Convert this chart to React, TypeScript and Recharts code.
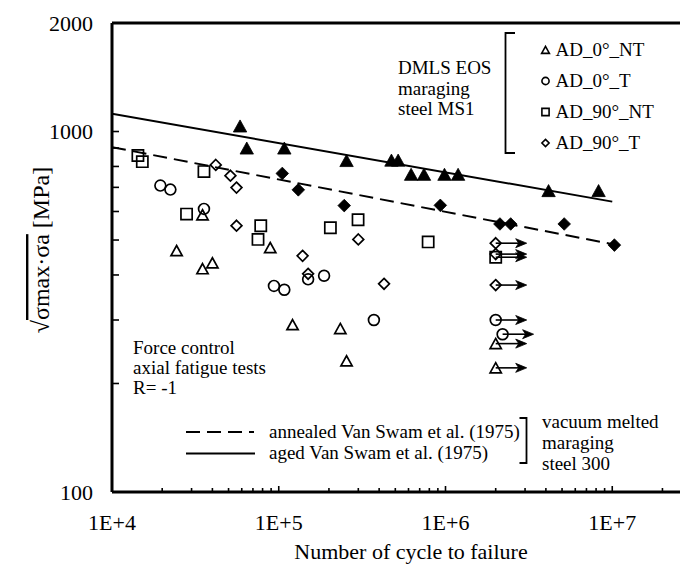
import React from 'react';
import { ScatterChart, Scatter, XAxis, YAxis, ReferenceLine } from 'recharts';

const FONT = "'Liberation Serif', 'DejaVu Serif', serif";
const fontStyle = { fontFamily: FONT };

// Fatigue data: n = cycles to failure, s = sqrt(smax*sa) [MPa]; runout = test stopped without failure
type Pt = { n: number; s: number; runout?: boolean };

const ad0NT: Pt[] = [
  { n: 24400, s: 467 }, { n: 34900, s: 587 }, { n: 34900, s: 416 }, { n: 40000, s: 432 },
  { n: 88900, s: 476 }, { n: 121000, s: 291 }, { n: 234000, s: 284 }, { n: 255000, s: 231 },
  { n: 2000000, s: 258, runout: true }, { n: 2000000, s: 221, runout: true },
];

const ad0T: Pt[] = [
  { n: 19500, s: 708 }, { n: 22400, s: 690 }, { n: 35600, s: 610 }, { n: 93600, s: 373 },
  { n: 108000, s: 364 }, { n: 150000, s: 389 }, { n: 187000, s: 398 }, { n: 372000, s: 300 },
  { n: 2000000, s: 300, runout: true }, { n: 2200000, s: 274, runout: true },
];

const ad90NT: Pt[] = [
  { n: 14300, s: 858 }, { n: 15200, s: 825 }, { n: 35600, s: 774 }, { n: 28000, s: 590 },
  { n: 78000, s: 548 }, { n: 75100, s: 502 }, { n: 204000, s: 541 }, { n: 299000, s: 569 },
  { n: 787000, s: 494 }, { n: 2000000, s: 448, runout: true },
];

const ad90T: Pt[] = [
  { n: 41900, s: 808 }, { n: 51300, s: 754 }, { n: 55800, s: 699 }, { n: 55800, s: 548 },
  { n: 139000, s: 452 }, { n: 300000, s: 502 }, { n: 150000, s: 403 }, { n: 428000, s: 378 },
  { n: 2000000, s: 490, runout: true }, { n: 2000000, s: 457, runout: true },
  { n: 2000000, s: 375, runout: true },
];

// Van Swam et al. (1975), vacuum melted maraging steel 300
const agedVanSwam: Pt[] = [
  { n: 58600, s: 1035 }, { n: 64300, s: 899 }, { n: 108000, s: 899 }, { n: 255000, s: 830 },
  { n: 474000, s: 832 }, { n: 520000, s: 832 }, { n: 622000, s: 760 }, { n: 743000, s: 760 },
  { n: 986000, s: 760 }, { n: 1190000, s: 760 }, { n: 4150000, s: 685 }, { n: 8280000, s: 685 },
];

const annealedVanSwam: Pt[] = [
  { n: 105000, s: 765 }, { n: 131000, s: 689 }, { n: 247000, s: 623 }, { n: 931000, s: 624 },
  { n: 2120000, s: 554 }, { n: 2460000, s: 554 }, { n: 5150000, s: 554 }, { n: 10300000, s: 484 },
];

// Trend lines
const agedFit: Pt[] = [{ n: 1e4, s: 1120 }, { n: 1e7, s: 639 }];
const annealedFit: Pt[] = [{ n: 1e4, s: 905 }, { n: 1e7, s: 487 }];

// Axis ticks
const xDecades = [4, 5, 6, 7];
const xLabelled = [1e4, 1e5, 1e6, 1e7];
const xTicks: number[] = [];
xDecades.forEach((d) => {
  for (let m = 1; m <= 9; m++) xTicks.push(m * Math.pow(10, d));
});
const yTicks = [100, 200, 300, 400, 500, 600, 700, 800, 900, 1000, 2000];
const yLabels = [100, 1000, 2000];

const legendItems = ['AD_0°_NT', 'AD_0°_T', 'AD_90°_NT', 'AD_90°_T'];

const XTick = (props: any) => {
  const { x, y, payload } = props;
  const v = payload.value;
  const major = xLabelled.includes(v);
  return (
    <g>
      <line x1={x} x2={x} y1={y} y2={y - (major ? 6 : 4)} stroke="#000" strokeWidth={1.6} />
      {major && (
        <text x={x} y={y + 38} textAnchor="middle" style={fontStyle} fontSize={22} fill="#000">
          {`1E+${Math.round(Math.log10(v))}`}
        </text>
      )}
    </g>
  );
};

const YTick = (props: any) => {
  const { x, y, payload } = props;
  const v = payload.value;
  return (
    <g>
      {v < 2000 && v > 100 && (
        <line x1={x} x2={x + 7} y1={y} y2={y} stroke="#000" strokeWidth={1.6} />
      )}
      {yLabels.includes(v) && (
        <text x={x - 19} y={y} dy={7.5} textAnchor="end" style={fontStyle} fontSize={22} fill="#000">
          {v}
        </text>
      )}
    </g>
  );
};

type Kind = 'triangle' | 'circle' | 'square' | 'diamond';

const markerPath = (kind: Kind, cx: number, cy: number, r: number) => {
  switch (kind) {
    case 'triangle':
      return `M${cx},${cy - r} L${cx + r * 1.08},${cy + r * 0.95} L${cx - r * 1.08},${cy + r * 0.95} Z`;
    case 'square':
      return `M${cx - r},${cy - r} H${cx + r} V${cy + r} H${cx - r} Z`;
    case 'diamond':
      return `M${cx},${cy - r} L${cx + r},${cy} L${cx},${cy + r} L${cx - r},${cy} Z`;
    default:
      return `M${cx - r},${cy} a${r},${r} 0 1,0 ${2 * r},0 a${r},${r} 0 1,0 ${-2 * r},0`;
  }
};

const Arrow = ({ cx, cy }: { cx: number; cy: number }) => (
  <g>
    <line x1={cx} x2={cx + 24} y1={cy} y2={cy} stroke="#000" strokeWidth={1.6} />
    <path
      d={`M${cx + 31},${cy} L${cx + 20},${cy - 4.5} L${cx + 23},${cy} L${cx + 20},${cy + 4.5} Z`}
      fill="#000"
      stroke="#000"
      strokeWidth={0.8}
    />
  </g>
);

const makeShape = (kind: Kind, r: number, filled: boolean) => (props: any) => {
  const { cx, cy, payload } = props;
  if (cx == null || cy == null) return <g />;
  return (
    <g>
      {payload && payload.runout && <Arrow cx={cx} cy={cy} />}
      <path
        d={markerPath(kind, cx, cy, r)}
        fill={filled ? '#000' : 'none'}
        stroke="#000"
        strokeWidth={filled ? 0.8 : 1.7}
      />
    </g>
  );
};

const noShape = () => <g />;

const Annotations = () => (
  <svg
    width={680}
    height={565}
    style={{ position: 'absolute', left: 0, top: 0, pointerEvents: 'none', fontFamily: FONT }}
  >
    {/* y-axis title */}
    <text transform="translate(49,250) rotate(-90)" textAnchor="middle" fontSize={24} fill="#000">
      √<tspan style={{ textDecoration: 'overline' }}>σmax·σa</tspan> [MPa]
    </text>
    {/* x-axis title */}
    <text x={411} y={559} textAnchor="middle" fontSize={22} fill="#000">
      Number of cycle to failure
    </text>

    {/* specimen group label and legend */}
    <text fontSize={19} fill="#000">
      <tspan x={398} y={74}>DMLS EOS</tspan>
      <tspan x={398} y={94.5}>maraging</tspan>
      <tspan x={398} y={115}>steel MS1</tspan>
    </text>
    <path d="M515,33 H505.5 V153 H515" fill="none" stroke="#000" strokeWidth={1.8} />
    {legendItems.map((label, i) => {
      const y = 50 + i * 31;
      const kind: Kind = (['triangle', 'circle', 'square', 'diamond'] as Kind[])[i];
      return (
        <g key={label}>
          <path d={markerPath(kind, 545.5, y, 3.6)} fill="none" stroke="#000" strokeWidth={1.6} />
          <text x={555.5} y={y + 6} fontSize={19} fill="#000">
            {label}
          </text>
        </g>
      );
    })}

    {/* test conditions */}
    <text fontSize={19} fill="#000">
      <tspan x={133} y={354}>Force control</tspan>
      <tspan x={133} y={374}>axial fatigue tests</tspan>
      <tspan x={133} y={394}>R= -1</tspan>
    </text>

    {/* reference curves legend */}
    <line x1={186} x2={254} y1={432} y2={432} stroke="#000" strokeWidth={2} strokeDasharray="14 7" />
    <line x1={186} x2={255} y1={453.5} y2={453.5} stroke="#000" strokeWidth={2} />
    <text fontSize={19} fill="#000">
      <tspan x={269} y={437.5}>annealed Van Swam et al. (1975)</tspan>
      <tspan x={269} y={458.5}>aged Van Swam et al. (1975)</tspan>
    </text>
    <path d="M519.5,418 H526.5 V463 H519.5" fill="none" stroke="#000" strokeWidth={1.8} />
    <text fontSize={19} fill="#000">
      <tspan x={542} y={427.5}>vacuum melted</tspan>
      <tspan x={542} y={448.5}>maraging</tspan>
      <tspan x={542} y={469.5}>steel 300</tspan>
    </text>
  </svg>
);

export default function App() {
  return (
    <div
      style={{
        position: 'fixed',
        left: 0,
        top: 0,
        width: 680,
        height: 565,
        overflow: 'hidden',
        background: '#fff',
      }}
    >
      <ScatterChart width={800} height={565} margin={{ top: 23, right: 21, bottom: 33, left: 0 }}>
        <XAxis
          dataKey="n"
          type="number"
          scale="log"
          domain={[1e4, 1e8]}
          allowDataOverflow
          ticks={xTicks}
          interval={0}
          tick={<XTick />}
          tickLine={false}
          tickSize={0}
          tickMargin={0}
          height={40}
          axisLine={{ stroke: '#000', strokeWidth: 3 }}
        />
        <YAxis
          dataKey="s"
          type="number"
          scale="log"
          domain={[100, 2000]}
          allowDataOverflow
          ticks={yTicks}
          interval={0}
          tick={<YTick />}
          tickLine={false}
          tickSize={0}
          tickMargin={0}
          width={112}
          axisLine={{ stroke: '#000', strokeWidth: 3 }}
        />
        <ReferenceLine y={2000} stroke="#000" strokeWidth={3} ifOverflow="visible" />

        <Scatter
          data={annealedFit}
          shape={noShape}
          line={{ stroke: '#000', strokeWidth: 2, strokeDasharray: '14 7' }}
          isAnimationActive={false}
        />
        <Scatter
          data={agedFit}
          shape={noShape}
          line={{ stroke: '#000', strokeWidth: 2 }}
          isAnimationActive={false}
        />

        <Scatter data={agedVanSwam} shape={makeShape('triangle', 6.2, true)} isAnimationActive={false} />
        <Scatter data={annealedVanSwam} shape={makeShape('diamond', 6.3, true)} isAnimationActive={false} />
        <Scatter data={ad0NT} shape={makeShape('triangle', 5.2, false)} isAnimationActive={false} />
        <Scatter data={ad0T} shape={makeShape('circle', 5.4, false)} isAnimationActive={false} />
        <Scatter data={ad90NT} shape={makeShape('square', 5.6, false)} isAnimationActive={false} />
        <Scatter data={ad90T} shape={makeShape('diamond', 5.4, false)} isAnimationActive={false} />
      </ScatterChart>
      <Annotations />
    </div>
  );
}
